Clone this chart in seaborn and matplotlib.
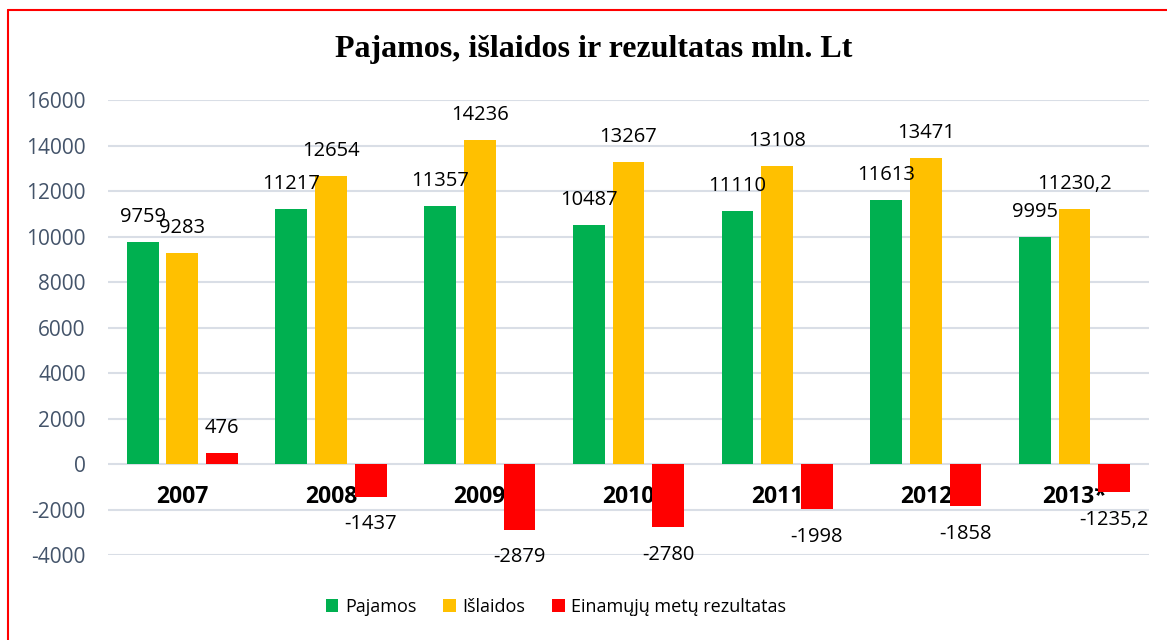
import matplotlib
matplotlib.use("Agg")
import matplotlib.pyplot as plt
from matplotlib.lines import Line2D
import seaborn as sns
import pandas as pd

years = ["2007", "2008", "2009", "2010", "2011", "2012", "2013*"]
pajamos = [9759, 11217, 11357, 10487, 11110, 11613, 9995]
islaidos = [9283, 12654, 14236, 13267, 13108, 13471, 11230.2]
rezultatas = [476, -1437, -2879, -2780, -1998, -1858, -1235.2]
series = ["Pajamos", "Išlaidos", "Einamųjų metų rezultatas"]
colors = ["#00B050", "#FFC000", "#FF0000"]

df = pd.concat([
    pd.DataFrame({"year": years, "value": vals, "series": name})
    for name, vals in zip(series, [pajamos, islaidos, rezultatas])
], ignore_index=True)

sns.set_theme(style="white")
plt.rcParams["font.family"] = ["Open Sans", "DejaVu Sans"]
plt.rcParams["axes.unicode_minus"] = False
plt.rcParams["text.color"] = "black"

fig = plt.figure(figsize=(11.67, 6.4), dpi=100)
ax = fig.add_axes([0.0925, 0.1328, 0.892, 0.7109])

sns.barplot(data=df, x="year", y="value", hue="series", hue_order=series,
            palette=dict(zip(series, colors)), gap=0.2, errorbar=None,
            saturation=1, linewidth=0, ax=ax, zorder=3)


def fmt(v):
    if float(v).is_integer():
        return str(int(v))
    return str(v).replace(".", ",")


for cont, vals in zip(ax.containers, [pajamos, islaidos, rezultatas]):
    for bar, v in zip(cont, vals):
        x = bar.get_x() + bar.get_width() / 2
        off = 18 if v >= 0 else -20
        ax.annotate(fmt(v), (x, bar.get_height()), xytext=(0, off),
                    textcoords="offset points", ha="center", va="center",
                    fontsize=14.5, color="black", zorder=5)

ax.set_ylim(-4000, 16000)
ax.set_yticks(range(-4000, 16001, 2000))
ax.yaxis.grid(True, color="#D9DEE6", linewidth=1.5, zorder=0)
ax.set_axisbelow(True)
for s in ax.spines.values():
    s.set_visible(False)
ax.spines["bottom"].set_position(("data", 0))
ax.tick_params(axis="y", length=0, pad=16, labelsize=15, labelcolor="#44546A")
ax.tick_params(axis="x", length=0, pad=15, labelsize=16.5, labelcolor="black")
for lbl in ax.get_xticklabels():
    lbl.set_fontweight("bold")
ax.set_xlabel("")
ax.set_ylabel("")

ax.legend(loc="center", bbox_to_anchor=(556 / 1167, 1 - 607 / 640),
          bbox_transform=fig.transFigure, ncol=3, frameon=False,
          fontsize=13, handlelength=0.7, handleheight=0.7,
          handletextpad=0.35, columnspacing=1.5)

fig.text(0.509, 0.922, "Pajamos, išlaidos ir rezultatas mln. Lt",
         ha="center", va="center", fontsize=23, fontweight="bold",
         color="black", family=["Liberation Serif", "DejaVu Serif"])

fig.add_artist(Line2D([8 / 1167, 1.0], [1 - 10 / 640, 1 - 10 / 640],
                      transform=fig.transFigure, color="#FF0000", linewidth=1.5))
fig.add_artist(Line2D([8 / 1167, 8 / 1167], [0.0, 1 - 10 / 640],
                      transform=fig.transFigure, color="#FF0000", linewidth=1.5))

fig.savefig("out.png", dpi=100)
